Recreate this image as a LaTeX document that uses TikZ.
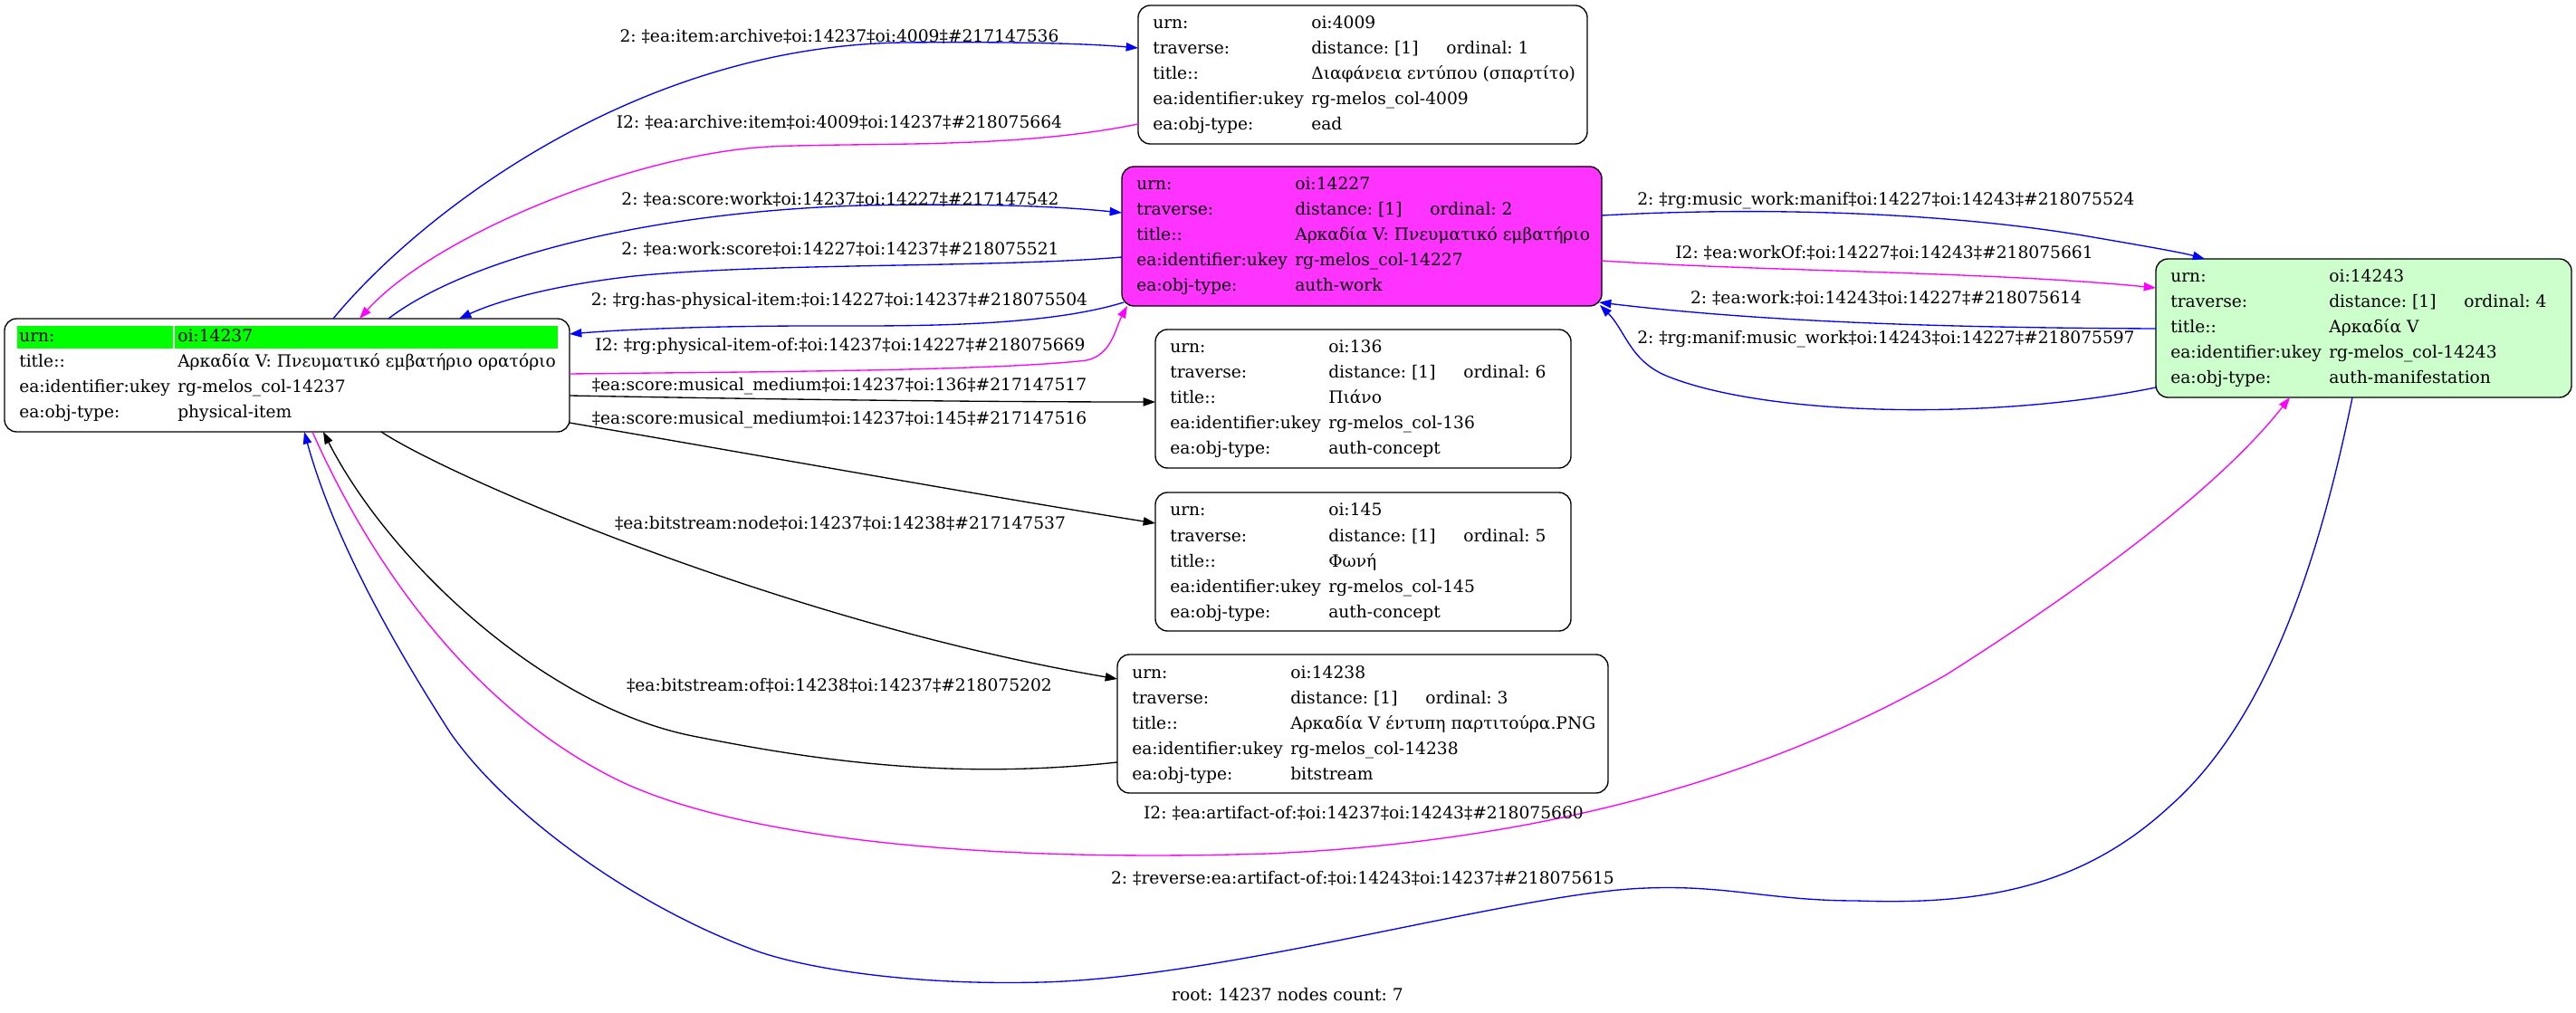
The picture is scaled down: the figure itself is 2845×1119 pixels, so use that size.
\documentclass[tikz,border=0pt]{standalone}
\usepackage{fontspec}
\setmainfont{DejaVu Serif}
\usetikzlibrary{arrows.meta,calc}
\frenchspacing
\definecolor{magfill}{HTML}{FF33FF}
\definecolor{lgreen}{HTML}{CCFFCC}
\definecolor{hgreen}{HTML}{00FF00}
\definecolor{eblue}{HTML}{0000FF}
\definecolor{emag}{HTML}{FF00FF}
\tikzset{
  box/.style={draw=black, line width=1pt, rounded corners=10pt, anchor=north west, inner sep=0pt, outer sep=0pt},
  cell/.style={anchor=base west, inner sep=0pt, font=\fontsize{14}{16}\selectfont},
  elabel/.style={anchor=center, inner sep=0pt, font=\fontsize{14}{16}\selectfont},
  conn/.style={line width=1pt, -{Triangle[length=10pt,width=7pt]}},
}
\newcommand\recrows[6]{%
  \node[cell] (#1-k1) at ($(#1.north west)+(16,26)$) {urn:};
  \node[cell] (#1-v1) at ($(#1.north west)+(191,26)$) {#2};
  \node[cell] (#1-k2) at ($(#1.north west)+(16,54)$) {traverse:};
  \node[cell] (#1-v2) at ($(#1.north west)+(191,54)$) {distance: [1]};
  \node[cell] (#1-o2) at ($(#1.north west)+(340,54)$) {ordinal: #3};
  \node[cell] (#1-k3) at ($(#1.north west)+(16,82)$) {title::};
  \node[cell] (#1-v3) at ($(#1.north west)+(191,82)$) {#4};
  \node[cell] (#1-k4) at ($(#1.north west)+(16,110)$) {ea:identifier:ukey};
  \node[cell] (#1-v4) at ($(#1.north west)+(191,110)$) {#5};
  \node[cell] (#1-k5) at ($(#1.north west)+(16,138)$) {ea:obj-type:};
  \node[cell] (#1-v5) at ($(#1.north west)+(191,138)$) {#6};
}
\begin{document}
\begin{tikzpicture}[x=0.75pt,y=-0.75pt]
\useasboundingbox (0,0) rectangle (2845,1119);

% boxes
\node[box, minimum width=372pt, minimum height=114.75pt] (n4009) at (1257,6) {};
\node[box, fill=magfill, minimum width=397.5pt, minimum height=115.5pt] (n14227) at (1239,184) {};
\node[box, fill=lgreen, minimum width=344.25pt, minimum height=114.75pt] (n14243) at (2381,286) {};
\node[box, minimum width=468pt, minimum height=93.75pt] (n14237) at (5,352) {};
\node[box, minimum width=344.25pt, minimum height=114.75pt] (n136) at (1276,364) {};
\node[box, minimum width=344.25pt, minimum height=114.75pt] (n145) at (1276,544) {};
\node[box, minimum width=406.5pt, minimum height=114.75pt] (n14238) at (1234,723) {};

% root node contents
\fill[hgreen] ($(n14237.north west)+(14,8)$) rectangle ($(n14237.north west)+(186,33)$);
\fill[hgreen] ($(n14237.north west)+(188,8)$) rectangle ($(n14237.north west)+(611,33)$);
\node[cell] (r-k1) at ($(n14237.north west)+(16,26)$) {urn:};
\node[cell] (r-v1) at ($(n14237.north west)+(191,26)$) {oi:14237};
\node[cell] (r-k2) at ($(n14237.north west)+(16,54)$) {title::};
\node[cell] (r-v2) at ($(n14237.north west)+(191,54)$) {Αρκαδία V: Πνευματικό εμβατήριο ορατόριο};
\node[cell] (r-k3) at ($(n14237.north west)+(16,82)$) {ea:identifier:ukey};
\node[cell] (r-v3) at ($(n14237.north west)+(191,82)$) {rg-melos\_col-14237};
\node[cell] (r-k4) at ($(n14237.north west)+(16,110)$) {ea:obj-type:};
\node[cell] (r-v4) at ($(n14237.north west)+(191,110)$) {physical-item};

\recrows{n4009}{oi:4009}{1}{Διαφάνεια εντύπου (σπαρτίτο)}{rg-melos\_col-4009}{ead}
\recrows{n14227}{oi:14227}{2}{Αρκαδία V: Πνευματικό εμβατήριο}{rg-melos\_col-14227}{auth-work}
\recrows{n14243}{oi:14243}{4}{Αρκαδία V}{rg-melos\_col-14243}{auth-manifestation}
\recrows{n136}{oi:136}{6}{Πιάνο}{rg-melos\_col-136}{auth-concept}
\recrows{n145}{oi:145}{5}{Φωνή}{rg-melos\_col-145}{auth-concept}
\recrows{n14238}{oi:14238}{3}{Αρκαδία V έντυπη παρτιτούρα.PNG}{rg-melos\_col-14238}{bitstream}

% connectors
\draw[conn, eblue] ($(n14237.north west)+(363,0)$) .. controls (460,240) and (700,50) .. (1000,47) .. controls (1120,46) and (1200,48) .. ($(n4009.north west)+(0,47)$);
\draw[conn, emag] ($(n4009.north west)+(0,131)$) .. controls (1120,165) and (960,157) .. (850,162) .. controls (700,170) and (480,260) .. ($(n14237.north west)+(392,0)$);
\draw[conn, eblue] ($(n14237.north west)+(424,0)$) .. controls (510,290) and (700,235) .. (950,227) .. controls (1100,224) and (1180,229) .. ($(n14227.north west)+(0,51)$);
\draw[conn, eblue] ($(n14227.north west)+(0,100)$) .. controls (1100,296) and (850,290) .. (700,305) .. controls (620,314) and (555,330) .. ($(n14237.north west)+(502,0)$);
\draw[conn, eblue] ($(n14227.south west)+(2,-4)$) .. controls (1150,362) and (1000,360) .. (900,360) .. controls (800,360) and (700,363) .. ($(n14237.north east)+(0,17)$);
\draw[conn, emag] ($(n14237.north east)+(0,61)$) .. controls (800,411) and (1100,410) .. (1200,398) .. controls (1228,392) and (1232,362) .. ($(n14227.south west)+(6,0)$);
\draw[conn, black] ($(n14237.north east)+(0,85)$) .. controls (900,442) and (1100,444) .. ($(n136.north west)+(0,80)$);
\draw[conn, black] ($(n14237.south east)+(0,-10)$) .. controls (850,505) and (1100,550) .. ($(n145.north west)+(0,34)$);
\draw[conn, black] ($(n14237.south west)+(416,0)$) .. controls (505,532) and (880,690) .. ($(n14238.north west)+(0,27)$);
\draw[conn, black] ($(n14238.north west)+(0,119)$) .. controls (1050,862) and (900,840) .. (765,813) .. controls (600,780) and (430,620) .. ($(n14237.south west)+(352,0)$);
\draw[conn, emag] ($(n14237.south west)+(340,0)$) .. controls (395,590) and (500,770) .. (679,860) .. controls (779,910) and (1000,955) .. (1400,943) .. controls (1700,930) and (1950,860) .. (2150,745) .. controls (2300,650) and (2450,540) .. ($(n14243.south west)+(148,0)$);
\draw[conn, eblue] ($(n14243.south west)+(217,0)$) .. controls (2565,600) and (2510,790) .. (2397,890) .. controls (2300,980) and (2190,1000) .. (2050,995) .. controls (1950,995) and (1900,975) .. (1800,982) .. controls (1650,993) and (1350,1080) .. (1150,1085) .. controls (1000,1089) and (880,1068) .. (829,1048) .. controls (700,1000) and (560,900) .. (497,809) .. controls (440,720) and (370,600) .. ($(n14237.south west)+(331,0)$);
\draw[conn, eblue] ($(n14227.north east)+(0,54)$) .. controls (1950,228) and (2150,235) .. (2300,260) .. controls (2370,272) and (2410,279) .. ($(n14243.north west)+(54,0)$);
\draw[conn, emag] ($(n14227.north east)+(0,104)$) .. controls (1950,300) and (2200,300) .. ($(n14243.north west)+(0,32)$);
\draw[conn, eblue] ($(n14243.north west)+(0,77)$) .. controls (2150,362) and (1950,356) .. ($(n14227.south east)+(-3,-4)$);
\draw[conn, eblue] ($(n14243.north west)+(0,142)$) .. controls (2200,465) and (1950,460) .. (1840,415) .. controls (1800,398) and (1795,365) .. ($(n14227.south east)+(-2,-1)$);

% connector labels
\node[elabel] (l1) at (927,40) {2: ‡ea:item:archive‡oi:14237‡oi:4009‡\#217147536};
\node[elabel] (l2) at (927,135) {I2: ‡ea:archive:item‡oi:4009‡oi:14237‡\#218075664};
\node[elabel] (l3) at (928,220) {2: ‡ea:score:work‡oi:14237‡oi:14227‡\#217147542};
\node[elabel] (l4) at (928,275) {2: ‡ea:work:score‡oi:14227‡oi:14237‡\#218075521};
\node[elabel] (l5) at (927,332) {2: ‡rg:has-physical-item:‡oi:14227‡oi:14237‡\#218075504};
\node[elabel] (l6) at (928,382) {I2: ‡rg:physical-item-of:‡oi:14237‡oi:14227‡\#218075669};
\node[elabel] (l7) at (927,427) {‡ea:score:musical\_medium‡oi:14237‡oi:136‡\#217147517};
\node[elabel] (l8) at (927,464) {‡ea:score:musical\_medium‡oi:14237‡oi:145‡\#217147516};
\node[elabel] (l9) at (928,578) {‡ea:bitstream:node‡oi:14237‡oi:14238‡\#217147537};
\node[elabel] (l10) at (927,757) {‡ea:bitstream:of‡oi:14238‡oi:14237‡\#218075202};
\node[elabel] (l11) at (1506,898) {I2: ‡ea:artifact-of:‡oi:14237‡oi:14243‡\#218075660};
\node[elabel] (l12) at (1505,970) {2: ‡reverse:ea:artifact-of:‡oi:14243‡oi:14237‡\#218075615};
\node[elabel] (l13) at (2083,222) {2: ‡rg:music\_work:manif‡oi:14227‡oi:14243‡\#218075524};
\node[elabel] (l14) at (2081,279) {I2: ‡ea:workOf:‡oi:14227‡oi:14243‡\#218075661};
\node[elabel] (l15) at (2083,329) {2: ‡ea:work:‡oi:14243‡oi:14227‡\#218075614};
\node[elabel] (l16) at (2083,375) {2: ‡rg:manif:music\_work‡oi:14243‡oi:14227‡\#218075597};

\node[elabel] (footer) at (1422,1099) {root: 14237 nodes count: 7};
\end{tikzpicture}
\end{document}
